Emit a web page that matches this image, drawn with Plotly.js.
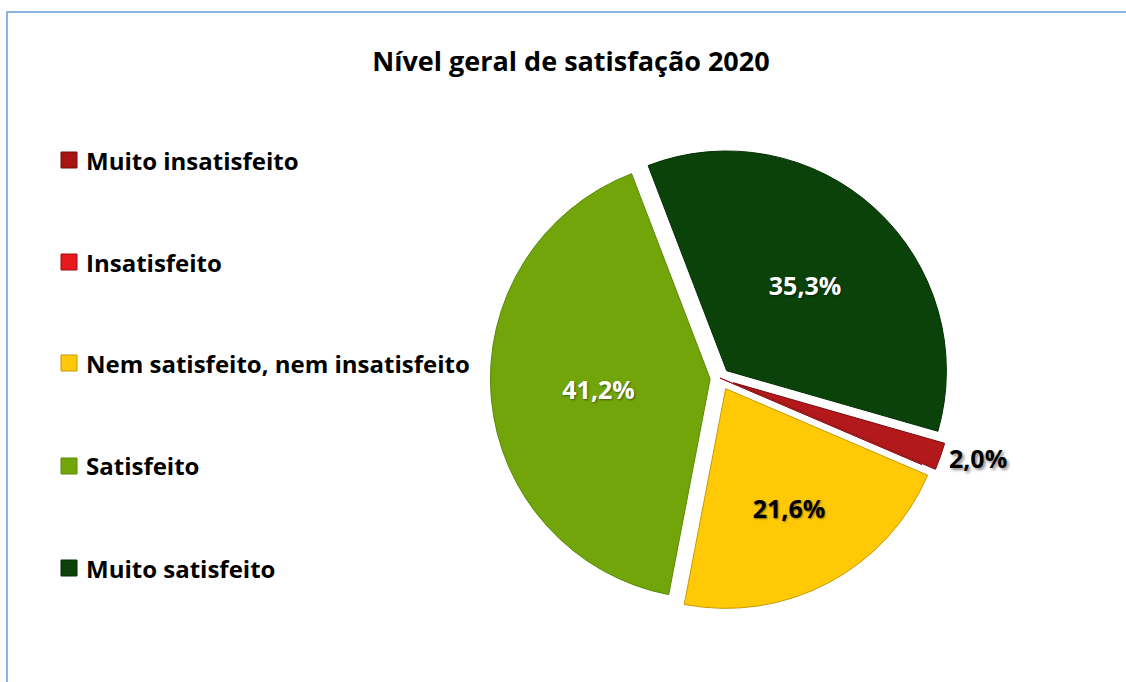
<!DOCTYPE html>
<html><head><meta charset="utf-8">
<script src="https://cdn.plot.ly/plotly-3.0.1.min.js"></script>
<style>html,body{margin:0;padding:0;background:#fff}#chart{width:1126px;height:682px}</style>
</head><body><div id="chart"></div><script>
// ---- data ----
const chartTitle = 'Nível geral de satisfação 2020';
const categories = ['Muito insatisfeito', 'Insatisfeito', 'Nem satisfeito, nem insatisfeito', 'Satisfeito', 'Muito satisfeito'];
const percentages = [2.0, 0.0, 21.6, 41.2, 35.3];

// ---- styles ----
const sliceColors = ['#b3191b', '#e3161b', '#ffca05', '#72a50a', '#0a420a'];
const sliceEdges = ['#7a0d0f', '#a00d10', '#c89a00', '#5a8a06', '#052e05'];
const legendColors = ['#a61416', '#e8191c', '#ffc90a', '#72a50a', '#0a420a'];
const insideColors = ['#000', '#000', '#000', '#fff', '#fff'];
const pulls = [0.065, 0, 0.055, 0.045, 0.045];
const positions = ['outside', 'none', 'inside', 'inside', 'inside'];
const FONT = '"Open Sans", "DejaVu Sans", sans-serif';

const W = 1126, H = 682;
const px = x => x / W, py = y => 1 - y / H;

const labelTexts = percentages.map(v => v > 0 ? v.toFixed(1).replace('.', ',') + '%' : '');

const trace = {
  type: 'pie',
  labels: categories,
  values: percentages,
  text: labelTexts,
  textinfo: 'text',
  hoverinfo: 'label+text',
  sort: false,
  direction: 'clockwise',
  rotation: 106,
  pull: pulls,
  textposition: positions,
  insidetextorientation: 'horizontal',
  marker: { colors: sliceColors, line: { color: sliceEdges, width: 1 } },
  insidetextfont: { family: FONT, size: 25, weight: 'bold', color: insideColors, shadow: '1px 1px 2px rgba(0,0,0,0.45)' },
  outsidetextfont: { family: FONT, size: 25, weight: 'bold', color: '#000', shadow: '2px 2px 3px rgba(0,0,0,0.45)' },
  domain: { x: [px(486), px(954)], y: [py(612), py(144)] },
  showlegend: false
};

const legendY = [160, 262, 363, 466, 568];
const shapes = [{
  type: 'rect', xref: 'paper', yref: 'paper',
  x0: px(7), x1: px(1135), y0: py(12), y1: py(700),
  line: { color: '#8eb4e3', width: 2 }, fillcolor: 'rgba(0,0,0,0)', layer: 'below'
}];
const annotations = [];
categories.forEach((c, i) => {
  const yc = legendY[i];
  shapes.push({
    type: 'rect', xref: 'paper', yref: 'paper',
    x0: px(61), x1: px(77), y0: py(yc + 8), y1: py(yc - 8),
    fillcolor: legendColors[i], line: { color: sliceEdges[i], width: 1 }
  });
  annotations.push({
    xref: 'paper', yref: 'paper', x: px(84), y: py(yc), xanchor: 'left', yanchor: 'middle',
    text: c, showarrow: false,
    font: { family: FONT, size: 24, weight: 'bold', color: '#000' }
  });
});

const layout = {
  width: W, height: H,
  margin: { l: 0, r: 0, t: 0, b: 0 },
  paper_bgcolor: '#fff',
  title: {
    text: chartTitle, x: px(571), xanchor: 'center', y: py(62), yanchor: 'middle',
    font: { family: FONT, size: 27, weight: 'bold', color: '#000' }
  },
  shapes: shapes,
  annotations: annotations,
  showlegend: false
};

Plotly.newPlot('chart', [trace], layout, { displayModeBar: false, staticPlot: true });
</script></body></html>
